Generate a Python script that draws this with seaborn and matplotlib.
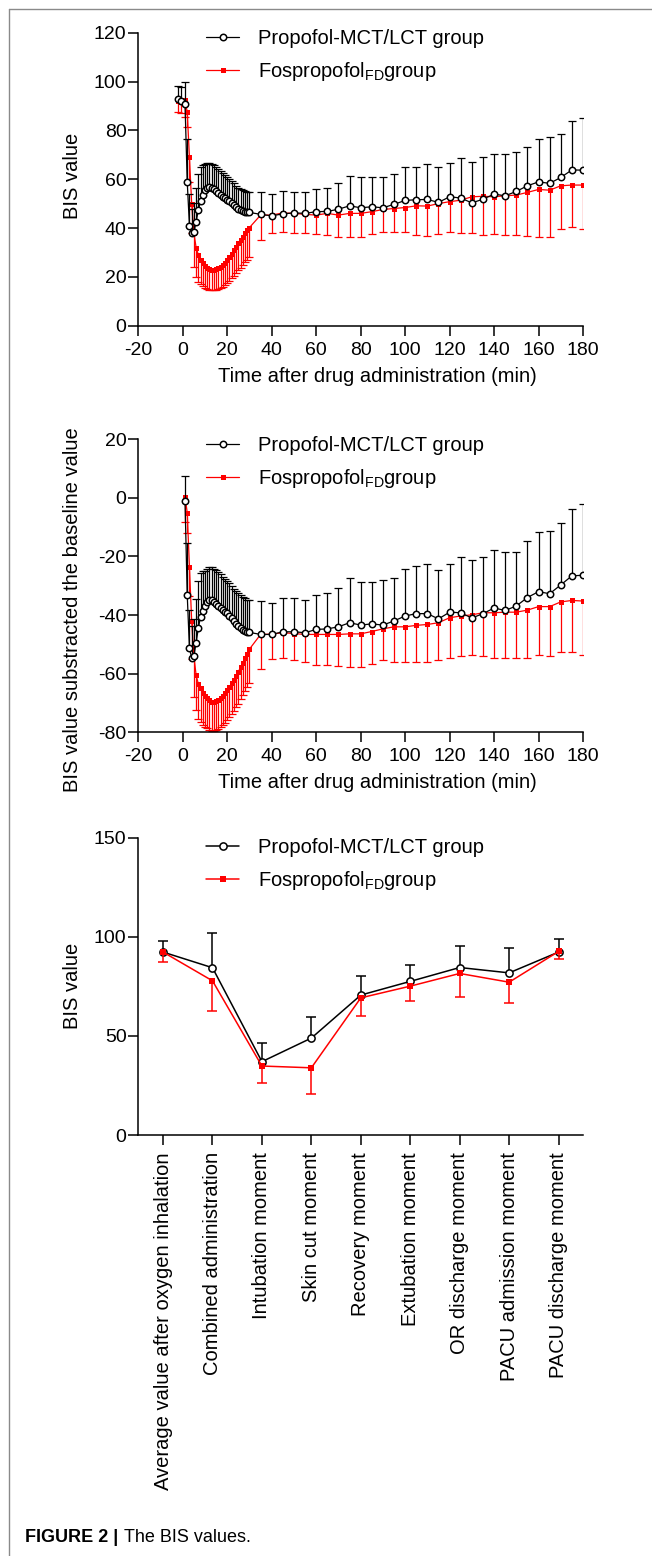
import numpy as np
import seaborn as sns
import matplotlib
matplotlib.use('Agg')
import matplotlib.pyplot as plt
from matplotlib.lines import Line2D

# ---- data ----
time_abs = [-2, -1, 1, 2, 3, 4, 5, 6, 7, 8, 9, 10, 11, 12, 13, 14, 15, 16, 17, 18, 19, 20,
            21, 22, 23, 24, 25, 26, 27, 28, 29, 30, 35, 40, 45, 50, 55, 60, 65, 70, 75, 80,
            85, 90, 95, 100, 105, 110, 115, 120, 125, 130, 135, 140, 145, 150, 155, 160,
            165, 170, 175, 180]
time_diff = [1, 2, 3, 4, 5, 6, 7, 8, 9, 10, 11, 12, 13, 14, 15, 16, 17, 18, 19, 20,
             21, 22, 23, 24, 25, 26, 27, 28, 29, 30, 35, 40, 45, 50, 55, 60, 65, 70, 75, 80,
             85, 90, 95, 100, 105, 110, 115, 120, 125, 130, 135, 140, 145, 150, 155, 160,
             165, 170, 175, 180]

# panel A: BIS value
prop_bis = [92.7, 92.0, 91.0, 59.0, 41.0, 37.8, 38.2, 42.6, 47.3, 51.0, 53.5, 55.4, 56.5, 57.0,
            56.6, 55.9, 55.1, 54.3, 53.6, 52.9, 52.2, 51.6, 50.9, 50.1, 49.3, 48.5, 47.8, 47.3,
            46.9, 46.7, 46.5, 46.4, 45.6, 45.0, 45.8, 46.2, 46.0, 46.7, 46.8, 47.7, 49.1, 48.3,
            48.7, 48.3, 49.7, 51.3, 51.6, 51.7, 50.5, 52.8, 52.3, 50.3, 51.8, 53.9, 53.2, 55.0,
            57.3, 58.9, 58.3, 60.7, 63.8, 63.7]
prop_bis_sd = [5.3, 5.8, 9.0, 17.4, 13.0, 10.0, 12.0, 14.0, 15.0, 14.0, 12.5, 11.0, 10.0, 9.5,
               9.8, 10.0, 10.0, 10.0, 9.8, 9.6, 9.5, 9.5, 9.3, 9.2, 9.0, 8.9, 8.8, 8.8, 8.6,
               8.5, 8.4, 8.3, 9.2, 8.9, 9.5, 8.6, 8.6, 9.1, 9.4, 10.6, 12.4, 12.4, 12.0, 12.7,
               12.3, 13.7, 13.2, 14.5, 14.5, 13.9, 16.3, 16.8, 17.1, 16.6, 17.3, 16.1, 15.7,
               17.5, 18.8, 18.0, 20.1, 21.2]
fos_bis = [92.2, 91.8, 92.4, 87.5, 69.0, 50.0, 38.0, 32.0, 29.0, 27.0, 25.7, 24.5, 23.7, 23.1,
           22.8, 22.8, 23.1, 23.5, 24.2, 24.9, 25.7, 26.8, 28.1, 29.5, 30.9, 32.3, 33.7, 35.1,
           36.5, 37.8, 39.0, 40.2, 45.3, 45.3, 46.2, 46.0, 45.6, 45.3, 46.0, 45.3, 46.0, 46.0,
           46.7, 47.6, 48.0, 48.4, 49.1, 49.0, 50.0, 50.8, 51.4, 52.8, 53.0, 52.8, 53.2, 53.5,
           54.6, 55.8, 55.5, 57.3, 57.6, 57.6]
fos_bis_sd = [4.5, 4.5, 7.0, 6.0, 10.0, 12.0, 14.0, 12.0, 11.0, 10.0, 9.5, 9.0, 8.7, 8.4, 8.2,
              8.2, 8.3, 8.5, 8.8, 9.0, 9.2, 9.5, 9.8, 10.1, 10.4, 10.7, 11.0, 11.3, 11.6, 11.8,
              12.0, 12.2, 10.3, 7.5, 7.7, 8.2, 7.8, 7.9, 8.9, 8.9, 9.6, 9.6, 9.3, 9.4, 9.8,
              10.2, 12.0, 12.3, 12.3, 12.3, 13.3, 14.7, 15.7, 15.2, 16.0, 16.3, 17.8, 19.4,
              19.1, 17.5, 17.1, 17.8]

# panel B: BIS value minus baseline
prop_diff = [-1.0, -33.0, -51.3, -54.7, -54.0, -49.4, -44.5, -40.5, -38.5, -36.9, -35.6, -34.8,
             -35.0, -35.6, -36.3, -36.9, -37.5, -38.2, -38.8, -39.3, -40.2, -41.1, -42.0, -42.9,
             -43.7, -44.5, -45.1, -45.5, -45.8, -45.9, -46.6, -46.6, -45.7, -45.7, -46.0, -44.9,
             -44.7, -44.0, -42.6, -43.4, -43.0, -43.4, -42.0, -40.3, -39.5, -39.5, -41.3, -39.0,
             -39.2, -41.0, -39.5, -37.6, -38.4, -36.9, -34.0, -32.0, -32.7, -29.7, -26.6, -26.4]
prop_diff_sd = [8.5, 17.5, 13.0, 11.0, 12.5, 15.0, 16.0, 15.0, 13.5, 12.0, 11.5, 11.3, 11.5,
                11.5, 11.6, 11.5, 11.4, 11.3, 11.2, 11.0, 11.0, 11.0, 11.0, 11.1, 11.2, 11.3,
                11.3, 11.2, 11.1, 11.1, 11.4, 10.8, 11.5, 11.7, 11.0, 11.9, 12.4, 13.4, 15.1,
                14.7, 14.3, 15.3, 14.5, 16.0, 16.1, 16.8, 16.6, 16.3, 18.9, 19.7, 19.2, 19.8,
                19.8, 18.3, 19.4, 20.2, 21.3, 21.1, 22.8, 24.3]
fos_diff = [0.4, -5.0, -23.5, -42.0, -54.0, -60.5, -63.5, -65.0, -66.5, -67.6, -68.4, -69.0,
            -69.5, -69.6, -69.3, -69.0, -68.2, -67.5, -66.7, -65.6, -64.5, -63.3, -62.0, -60.7,
            -59.3, -57.8, -56.3, -54.7, -53.2, -51.6, -46.6, -46.5, -46.0, -46.3, -46.6, -46.6,
            -46.6, -46.6, -46.4, -46.4, -45.6, -44.7, -44.0, -44.0, -43.5, -43.2, -42.6, -40.9,
            -40.3, -39.9, -39.2, -39.2, -39.0, -39.0, -38.3, -37.1, -37.1, -35.5, -35.0, -35.2]
fos_diff_sd = [8.5, 7.0, 10.0, 13.0, 13.8, 12.0, 12.0, 11.5, 11.0, 10.5, 10.3, 10.2, 10.1, 10.1,
               10.0, 10.0, 10.0, 10.0, 10.0, 10.2, 10.3, 10.5, 10.6, 10.8, 10.9, 11.0, 11.1,
               11.2, 11.3, 11.5, 11.8, 8.5, 8.6, 8.9, 9.5, 10.3, 10.3, 10.9, 11.3, 11.3, 11.1,
               10.5, 12.0, 12.0, 12.5, 12.8, 12.6, 13.7, 13.7, 13.8, 14.9, 15.5, 15.7, 15.7,
               16.4, 16.6, 16.9, 17.1, 17.6, 18.3]

# panel C: BIS at key moments
moments = ["Average value after oxygen inhalation", "Combined administration",
           "Intubation moment", "Skin cut moment", "Recovery moment", "Extubation moment",
           "OR discharge moment", "PACU admission moment", "PACU discharge moment"]
prop_mom = [92.3, 84.4, 37.0, 48.9, 70.6, 77.5, 84.5, 81.8, 92.3]
prop_mom_sd = [5.5, 17.3, 9.6, 10.4, 9.4, 8.4, 11.0, 12.7, 6.4]
fos_mom = [92.3, 77.8, 34.8, 33.9, 69.2, 75.1, 81.5, 77.1, 92.6]
fos_mom_sd = [4.9, 15.3, 8.4, 13.2, 9.0, 7.7, 11.9, 10.7, 3.9]

lab_prop = 'Propofol-MCT/LCT group'
lab_fos = r'Fospropofol$_{\mathregular{FD}}$group'

sns.set_style('ticks')
plt.rcParams['font.family'] = ['Liberation Sans', 'DejaVu Sans']
plt.rcParams['mathtext.fontset'] = 'custom'
plt.rcParams['mathtext.rm'] = 'Liberation Sans'
plt.rcParams['axes.linewidth'] = 1.1
plt.rcParams['axes.edgecolor'] = 'black'
plt.rcParams['axes.labelcolor'] = 'black'
plt.rcParams['text.color'] = 'black'
plt.rcParams['xtick.color'] = 'black'
plt.rcParams['ytick.color'] = 'black'
plt.rcParams['axes.unicode_minus'] = False

W, H = 652, 1556
fig = plt.figure(figsize=(W / 100, H / 100), dpi=100)


def px_axes(left, top, right, bottom):
    return fig.add_axes([left / W, 1 - bottom / H, (right - left) / W, (bottom - top) / H])


def one_sided(ax, x, y, sd, color, up, lw, cap):
    y = np.asarray(y)
    sd = np.asarray(sd)
    err = [np.zeros_like(sd), sd] if up else [sd, np.zeros_like(sd)]
    _, caps, _ = ax.errorbar(x, y, yerr=err, fmt='none', ecolor=color,
                             elinewidth=lw, capsize=cap, capthick=lw)
    for c in caps:
        if np.allclose(c.get_ydata(), y):
            c.set_visible(False)


def series(ax, x, y, color, marker, ms, lw, label):
    if marker == 'o':
        kw = dict(markerfacecolor='white', markeredgecolor=color, markeredgewidth=1.1)
    else:
        kw = dict(markerfacecolor=color, markeredgecolor=color, markeredgewidth=0)
    sns.lineplot(x=x, y=y, ax=ax, color=color, marker=marker, markersize=ms,
                 linewidth=lw, label=label, sort=False, **kw)


def style(ax):
    sns.despine(ax=ax)
    ax.tick_params(axis='both', length=7, width=1.1, labelsize=14, color='black',
                   labelcolor='black')
    ax.tick_params(axis='y', pad=1.5)
    ax.tick_params(axis='x', pad=4.5)


def legend(ax, y0):
    h, l = ax.get_legend_handles_labels()
    order = [l.index(lab_prop), l.index(lab_fos)]
    ax.legend([h[i] for i in order], [l[i] for i in order], loc='upper left',
              bbox_to_anchor=(0.152, y0), frameon=False, fontsize=14.5,
              handlelength=1.65, handletextpad=0.95, labelspacing=0.6,
              borderaxespad=0, borderpad=0)


# ---- panel A ----
ax1 = px_axes(138.3, 32.7, 583, 325.7)
one_sided(ax1, time_abs, fos_bis, fos_bis_sd, 'red', False, 0.9, 3)
series(ax1, time_abs, fos_bis, 'red', 's', 3.6, 0.9, lab_fos)
one_sided(ax1, time_abs, prop_bis, prop_bis_sd, 'black', True, 0.9, 3)
series(ax1, time_abs, prop_bis, 'black', 'o', 4.6, 0.9, lab_prop)
ax1.set_xlim(-20, 180)
ax1.set_ylim(0, 120)
ax1.set_xticks(np.arange(-20, 181, 20))
ax1.set_yticks(np.arange(0, 121, 20))
ax1.set_xlabel('Time after drug administration (min)', fontsize=14.5)
ax1.set_ylabel('BIS value', fontsize=14.5)
ax1.xaxis.set_label_coords(0.538, -0.14)
ax1.yaxis.set_label_coords(-0.127, 0.51)
style(ax1)
legend(ax1, 1.012)

# ---- panel B ----
ax2 = px_axes(138.3, 439.3, 583, 732.3)
one_sided(ax2, time_diff, fos_diff, fos_diff_sd, 'red', False, 0.9, 3)
series(ax2, time_diff, fos_diff, 'red', 's', 3.6, 0.9, lab_fos)
one_sided(ax2, time_diff, prop_diff, prop_diff_sd, 'black', True, 0.9, 3)
series(ax2, time_diff, prop_diff, 'black', 'o', 4.6, 0.9, lab_prop)
ax2.set_xlim(-20, 180)
ax2.set_ylim(-80, 20)
ax2.set_xticks(np.arange(-20, 181, 20))
ax2.set_yticks(np.arange(-80, 21, 20))
ax2.set_xlabel('Time after drug administration (min)', fontsize=14.5)
ax2.set_ylabel('BIS value substracted the baseline value', fontsize=14.5)
ax2.xaxis.set_label_coords(0.538, -0.14)
ax2.yaxis.set_label_coords(-0.127, 0.42)
style(ax2)
legend(ax2, 1.012)

# ---- panel C ----
pos = np.arange(len(moments))
ax3 = px_axes(138.3, 837.7, 583.3, 1135)
one_sided(ax3, pos, prop_mom, prop_mom_sd, 'black', True, 1.1, 3.5)
series(ax3, pos, prop_mom, 'black', 'o', 5.2, 1.1, lab_prop)
one_sided(ax3, pos, fos_mom, fos_mom_sd, 'red', False, 1.1, 3.5)
series(ax3, pos, fos_mom, 'red', 's', 5.0, 1.1, lab_fos)
ax3.set_xlim(-0.5, len(moments) - 0.5)
ax3.set_ylim(0, 150)
ax3.set_yticks([0, 50, 100, 150])
ax3.set_xticks(pos)
ax3.set_xticklabels(moments, rotation=90, ha='center', va='top')
ax3.set_xlabel('')
ax3.set_ylabel('BIS value', fontsize=14.5)
ax3.yaxis.set_label_coords(-0.127, 0.5)
style(ax3)
ax3.tick_params(axis='x', pad=5.5, labelsize=14.5)
legend(ax3, 1.0)

# page frame and caption
fig.add_artist(Line2D([9 / W, 9 / W], [0, 1 - 9 / H], transform=fig.transFigure,
                      color='#8a8a8a', lw=1))
fig.add_artist(Line2D([9 / W, 1], [1 - 9 / H, 1 - 9 / H], transform=fig.transFigure,
                      color='#8a8a8a', lw=1))
fig.text(25 / W, 1 - 1537 / H, 'FIGURE 2 |', fontsize=13, fontweight='bold',
         va='center', ha='left')
fig.text(124 / W, 1 - 1537 / H, 'The BIS values.', fontsize=13, va='center', ha='left')

fig.savefig('out.png', dpi=100)
